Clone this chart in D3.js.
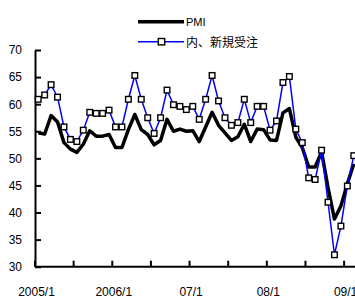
<!DOCTYPE html>
<html><head><meta charset="utf-8">
<script src="https://cdn.jsdelivr.net/npm/d3@7"></script>
<style>
html,body{margin:0;padding:0;background:#fff;overflow:hidden;}
svg{display:block;}
text{font-family:"Liberation Sans",Arial,sans-serif;}
</style></head>
<body>
<script>
const months = [
 "2005/1","2005/2","2005/3","2005/4","2005/5","2005/6","2005/7","2005/8","2005/9","2005/10","2005/11","2005/12",
 "2006/1","2006/2","2006/3","2006/4","2006/5","2006/6","2006/7","2006/8","2006/9","2006/10","2006/11","2006/12",
 "2007/1","2007/2","2007/3","2007/4","2007/5","2007/6","2007/7","2007/8","2007/9","2007/10","2007/11","2007/12",
 "2008/1","2008/2","2008/3","2008/4","2008/5","2008/6","2008/7","2008/8","2008/9","2008/10","2008/11","2008/12",
 "2009/1","2009/2"
];
const pmi = [
 54.7,54.5,57.9,56.7,52.9,51.7,51.1,52.6,55.1,54.1,54.1,54.4,
 52.0,52.0,55.3,58.1,55.3,54.4,52.5,53.3,57.2,55.0,55.4,55.0,
 55.1,53.1,55.8,58.5,56.1,54.7,53.3,54.0,56.3,53.1,55.4,55.3,
 53.4,53.3,58.4,59.2,53.9,52.0,48.4,48.4,51.2,44.6,38.8,41.2,
 45.3,49.0
];
const newOrders = [
 60.9,61.7,63.6,61.3,55.8,53.5,53.1,55.2,58.5,58.3,58.3,58.9,
 55.8,55.8,60.9,65.3,60.9,57.5,54.6,57.5,62.6,59.9,59.6,59.0,
 59.6,57.2,60.9,65.3,60.6,57.5,56.1,56.6,60.9,56.6,59.6,59.6,
 55.2,56.9,64.0,65.1,55.4,52.9,46.4,46.1,51.5,41.9,32.2,37.5,
 44.9,50.5
];
const tickMonths = ["2005/1","2005/7","2006/1","2006/7","2007/1","2007/7","2008/1","2008/7","2009/1"];
const labelMonths = ["2005/1","2006/1","2007/1","2008/1","2009/1"];
const labelTexts = ["2005/1","2006/1","07/1","08/1","09/1"];
const yTicks = [30,35,40,45,50,55,60,65,70];
const seriesNames = ["PMI","内、新規受注"];

const W=355,H=299;
const svg=d3.select("body").append("svg").attr("width",W).attr("height",H);
const x=d3.scaleBand().domain(months).range([35,35+months.length*6.44]);
const xc=m=>x(m)+x.bandwidth()/2;
const y=d3.scaleLinear().domain([30,70]).range([266.7,50]);

// y axis
const ya=svg.append("g").attr("transform","translate(35,0)")
 .call(d3.axisLeft(y).tickValues(yTicks).tickSizeInner(-6).tickSizeOuter(0).tickPadding(13));
ya.select(".domain").attr("stroke","#000").attr("stroke-width",2);
ya.selectAll(".tick line").attr("stroke","#000").attr("stroke-width",2);
ya.selectAll(".tick text").attr("font-size",12).attr("fill","#000")
 .style("font-family","'Liberation Sans',Arial,sans-serif");

// x axis
const xa=svg.append("g").attr("transform","translate(0,266.7)");
xa.append("line").attr("x1",35).attr("x2",W+5).attr("y1",0).attr("y2",0)
 .attr("stroke","#000").attr("stroke-width",2);
xa.selectAll("line.t").data(tickMonths).enter().append("line").attr("class","t")
 .attr("x1",d=>x(d)).attr("x2",d=>x(d)).attr("y1",0).attr("y2",-6)
 .attr("stroke","#000").attr("stroke-width",2);
xa.selectAll("text").data(labelMonths).enter().append("text")
 .attr("x",d=>x(d)+1.5).attr("y",29.5).attr("text-anchor","middle")
 .attr("font-size",12).attr("fill","#000").text((d,i)=>labelTexts[i]);

// PMI line
const line=d3.line().x((d,i)=>xc(months[i])).y(d=>y(d));
svg.append("path").datum(pmi).attr("d",line).attr("fill","none")
 .attr("stroke","#000").attr("stroke-width",3.5).attr("stroke-linejoin","round");
// new orders
svg.append("path").datum(newOrders).attr("d",line).attr("fill","none")
 .attr("stroke","#0000ff").attr("stroke-width",1.5);
const ms=5.6;
svg.selectAll("rect.m").data(newOrders).enter().append("rect").attr("class","m")
 .attr("x",(d,i)=>xc(months[i])-ms/2).attr("y",d=>y(d)-ms/2)
 .attr("width",ms).attr("height",ms).attr("fill","#fff")
 .attr("stroke","#000").attr("stroke-width",1.4);

// legend
const lg=svg.append("g");
lg.append("line").attr("x1",138).attr("x2",184).attr("y1",21.7).attr("y2",21.7)
 .attr("stroke","#000").attr("stroke-width",3.5);
lg.append("text").attr("x",186).attr("y",26).attr("font-size",11).attr("fill","#000").text(seriesNames[0]);
lg.append("line").attr("x1",138).attr("x2",184).attr("y1",41.7).attr("y2",41.7)
 .attr("stroke","#0000ff").attr("stroke-width",1.5);
lg.append("rect").attr("x",161.5-3.2).attr("y",41.7-3.2).attr("width",6.4).attr("height",6.4)
 .attr("fill","#fff").attr("stroke","#000").attr("stroke-width",1.4);
lg.append("text").attr("x",186).attr("y",46.5).attr("font-size",12).attr("fill","#000")
 .style("font-family","'Noto Sans CJK JP',sans-serif").text(seriesNames[1]);
</script>
</body></html>
